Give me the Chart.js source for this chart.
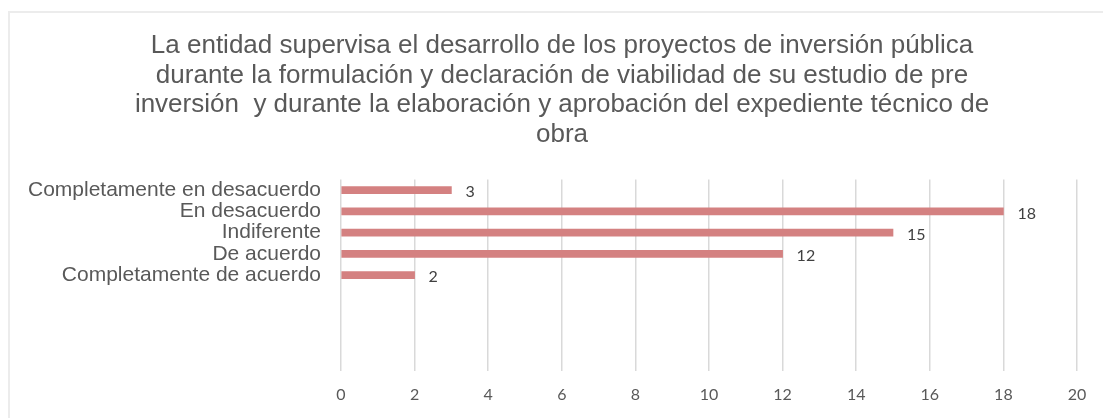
<!DOCTYPE html>
<html>
<head>
<meta charset="utf-8">
<script src="https://cdn.jsdelivr.net/npm/chart.js@4"></script>
<style>
  html, body { margin: 0; padding: 0; background: #fff; overflow: hidden; width: 1103px; height: 418px; }
  #frame { position: absolute; left: 8px; top: 11px; width: 1120px; height: 420px; border: 2px solid #ececec; box-sizing: border-box; }
  #wrap { position: absolute; left: 0; top: 0; width: 1124px; height: 418px; }
</style>
</head>
<body>
<div id="frame"></div>
<div id="wrap"><canvas id="c"></canvas></div>
<script>
const titleLines = [
  "La entidad supervisa el desarrollo de los proyectos de inversión pública",
  "durante la formulación y declaración de viabilidad de su estudio de pre",
  "inversión  y durante la elaboración y aprobación del expediente técnico de",
  "obra"
];
const categories = ["Completamente en desacuerdo", "En desacuerdo", "Indiferente", "De acuerdo", "Completamente de acuerdo", "", "", "", ""];
const values = [3, 18, 15, 12, 2];
const xMin = 0, xMax = 20, xStep = 2;

const valueLabels = {
  id: 'valueLabels',
  afterDatasetsDraw(chart) {
    const ctx = chart.ctx;
    const meta = chart.getDatasetMeta(0);
    ctx.save();
    ctx.font = '16px Lato, "Open Sans", sans-serif';
    ctx.fillStyle = '#404040';
    ctx.textAlign = 'left';
    ctx.textBaseline = 'middle';
    meta.data.forEach((bar, i) => {
      const v = chart.data.datasets[0].data[i];
      if (v === null || v === undefined) return;
      ctx.fillText(String(v), bar.x + 14, bar.y + 2);
    });
    ctx.restore();
  }
};

// centre the title over the frame (its box otherwise starts at the canvas edge)
const titleShift = {
  id: 'titleShift',
  afterLayout(chart) {
    if (chart.titleBlock) chart.titleBlock.left += 47;
  }
};

new Chart(document.getElementById('c'), {
  type: 'bar',
  data: {
    labels: categories,
    datasets: [{
      data: values,
      backgroundColor: '#d48181',
      borderWidth: 0,
      barThickness: 7
    }]
  },
  options: {
    indexAxis: 'y',
    responsive: true,
    maintainAspectRatio: false,
    animation: false,
    layout: { padding: { left: 0, right: 47, top: 0, bottom: 0 } },
    plugins: {
      legend: { display: false },
      tooltip: { enabled: false },
      title: {
        display: true,
        text: titleLines,
        color: '#595959',
        font: { family: '"Liberation Sans", Arial, sans-serif', size: 26, weight: 'normal', lineHeight: 1.14 },
        padding: { top: 31, bottom: 30 }
      }
    },
    scales: {
      x: {
        min: xMin, max: xMax,
        ticks: {
          stepSize: xStep,
          color: '#595959',
          font: { family: 'Lato, "Open Sans", sans-serif', size: 16 },
          padding: 14
        },
        grid: { color: '#d9d9d9', lineWidth: 1.5, drawTicks: false },
        border: { display: false }
      },
      y: {
        ticks: {
          autoSkip: false,
          color: '#595959',
          font: { family: '"Liberation Sans", Arial, sans-serif', size: 21 },
          padding: 20
        },
        grid: { display: false, drawTicks: false },
        border: { display: false },
        afterFit(scale) { scale.width = 341; }
      }
    }
  },
  plugins: [valueLabels, titleShift]
});
</script>
</body>
</html>
